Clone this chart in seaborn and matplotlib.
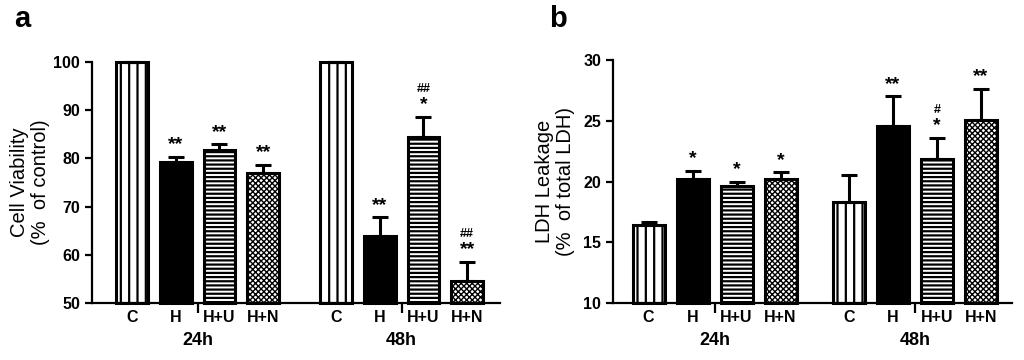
import numpy as np
import pandas as pd
import matplotlib
matplotlib.use("Agg")
import matplotlib.pyplot as plt
import seaborn as sns

treatments = ["C", "H", "H+U", "H+N"]
times = ["24h", "48h"]

# panel a - cell viability (% of control)
viability = [100, 79.3, 81.8, 76.9, 100, 64.0, 84.4, 54.6]
viability_sem = [0, 1.0, 1.1, 1.7, 0, 3.8, 4.2, 3.9]
viability_stars = ["", "**", "**", "**", "", "**", "*", "**"]
viability_hash = ["", "", "", "", "", "", "##", "##"]

# panel b - LDH leakage (% of total LDH)
ldh = [16.4, 20.2, 19.6, 20.2, 18.3, 24.6, 21.85, 25.1]
ldh_sem = [0.25, 0.7, 0.4, 0.55, 2.2, 2.4, 1.75, 2.5]
ldh_stars = ["", "*", "*", "*", "", "**", "*", "**"]
ldh_hash = ["", "", "", "", "", "", "#", ""]

sns.set_style("ticks")
plt.rcParams['font.family'] = ['Liberation Sans', 'DejaVu Sans']
plt.rcParams['hatch.linewidth'] = 1.6
plt.rcParams['hatch.color'] = 'black'
for key in ['text.color', 'axes.labelcolor', 'xtick.color', 'ytick.color', 'axes.edgecolor']:
    plt.rcParams[key] = 'black'

hatches = ["||", None, "----", "xxxxxx"]


def draw_panel(ax, values, sem, stars, hashes, gap, ylim, yticks, ylabel, xlim, label_x):
    pos = [g * gap + i for g in range(len(times)) for i in range(len(treatments))]
    df = pd.DataFrame({"pos": pos, "value": values,
                       "treatment": treatments * len(times)})
    sns.barplot(data=df, x="pos", y="value", native_scale=True, width=0.73,
                color="white", edgecolor="black", linewidth=2.2,
                errorbar=None, ax=ax)
    for k, p in enumerate(ax.patches):
        h = hatches[k % 4]
        # bars start at the bottom of the y range (axis does not start at 0)
        top = p.get_y() + p.get_height()
        p.set_y(ylim[0])
        p.set_height(top - ylim[0])
        p.set_clip_on(False)
        if h is None:
            p.set_facecolor("black")
        else:
            p.set_facecolor("white")
            p.set_hatch(h)
            if h.startswith("x"):
                try:
                    p.set_hatch_linewidth(1.0)
                except AttributeError:
                    pass
    lower = np.zeros(len(values))
    ax.errorbar(pos, values, yerr=[lower, sem], fmt="none", ecolor="black",
                elinewidth=2.2, capsize=6, capthick=2.2, clip_on=False, zorder=1)
    for x, v, e, s, hs in zip(pos, values, sem, stars, hashes):
        if s:
            ax.annotate(s, xy=(x, v + e), xytext=(0, 5.5), textcoords="offset points",
                        ha="center", va="baseline", fontsize=14, fontweight="bold")
        if hs:
            ax.annotate(hs, xy=(x, v + e), xytext=(0, 18), textcoords="offset points",
                        ha="center", va="baseline", fontsize=9, fontweight="bold")

    ax.set_xlim(*xlim)
    ax.set_ylim(*ylim)
    ax.set_yticks(yticks)
    ax.set_xticks(pos)
    ax.set_xticklabels(treatments * len(times), fontsize=11.5, fontweight="bold")
    centers = [g * gap + 1.5 for g in range(len(times))]
    ax.set_xticks(centers, minor=True)
    ax.tick_params(axis="x", which="major", length=0, pad=5)
    ax.tick_params(axis="x", which="minor", length=7, width=1.6, direction="out")
    ax.tick_params(axis="y", length=5, width=1.6, labelsize=11.5)
    for t in ax.get_yticklabels():
        t.set_fontweight("bold")
    for c, name in zip(centers, times):
        ax.text(c, -0.155, name, transform=ax.get_xaxis_transform(),
                ha="center", va="center", fontsize=13, fontweight="bold")
    ax.set_xlabel("")
    ax.set_ylabel(ylabel, fontsize=14.5, linespacing=1.12)
    ax.yaxis.set_label_coords(label_x, 0.5)
    sns.despine(ax=ax)
    for sp in ["left", "bottom"]:
        ax.spines[sp].set_linewidth(1.6)
        ax.spines[sp].set_zorder(3)


fig = plt.figure(figsize=(10.24, 3.6), dpi=100)
ax_a = fig.add_axes([0.0898, 0.1583, 0.3984, 0.6694])
ax_b = fig.add_axes([0.5986, 0.1583, 0.3897, 0.6750])

draw_panel(ax_a, viability, viability_sem, viability_stars, viability_hash,
           4.67, (50, 100), [50, 60, 70, 80, 90, 100],
           "Cell Viability\n(%  of control)", (-0.92, 8.42), -0.103)
draw_panel(ax_b, ldh, ldh_sem, ldh_stars, ldh_hash,
           4.55, (10, 30), [10, 15, 20, 25, 30],
           "LDH Leakage\n(%  of total LDH)", (-0.81, 8.26), -0.095)

fig.text(0.014, 0.925, "a", fontsize=21, fontweight="bold")
fig.text(0.536, 0.925, "b", fontsize=21, fontweight="bold")

fig.savefig("out.png", dpi=100)
